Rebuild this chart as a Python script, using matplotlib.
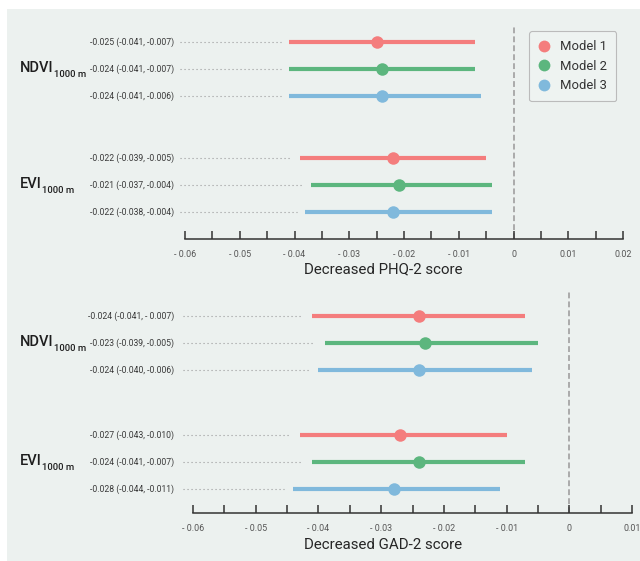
import matplotlib
matplotlib.use("Agg")
import matplotlib.pyplot as plt
import matplotlib.transforms as mtransforms
from matplotlib.lines import Line2D
from matplotlib.patches import Rectangle


plt.rcParams["font.family"] = ["Roboto", "DejaVu Sans"]


# =========================================================
# Data
# =========================================================

models = ["Model 1", "Model 2", "Model 3"]
colors = ["#F47D7D", "#5CB67E", "#80B9DC"]
exposures = ["NDVI", "EVI"]
buffer_label = "1000 m"

# PHQ-2
phq_ndvi_est = [-0.025, -0.024, -0.024]
phq_ndvi_lo = [-0.041, -0.041, -0.041]
phq_ndvi_hi = [-0.007, -0.007, -0.006]
phq_evi_est = [-0.022, -0.021, -0.022]
phq_evi_lo = [-0.039, -0.037, -0.038]
phq_evi_hi = [-0.005, -0.004, -0.004]
phq_labels = [
    "-0.025 (-0.041, -0.007)",
    "-0.024 (-0.041, -0.007)",
    "-0.024 (-0.041, -0.006)",
    "-0.022 (-0.039, -0.005)",
    "-0.021 (-0.037, -0.004)",
    "-0.022 (-0.038, -0.004)",
]

# GAD-2
gad_ndvi_est = [-0.024, -0.023, -0.024]
gad_ndvi_lo = [-0.041, -0.039, -0.040]
gad_ndvi_hi = [-0.007, -0.005, -0.006]
gad_evi_est = [-0.027, -0.024, -0.028]
gad_evi_lo = [-0.043, -0.041, -0.044]
gad_evi_hi = [-0.010, -0.007, -0.011]
gad_labels = [
    "-0.024 (-0.041, - 0.007)",
    "-0.023 (-0.039, -0.005)",
    "-0.024 (-0.040, -0.006)",
    "-0.027 (-0.043, -0.010)",
    "-0.024 (-0.041, -0.007)",
    "-0.028 (-0.044, -0.011)",
]

phq_ticks = [-0.06, -0.05, -0.04, -0.03, -0.02, -0.01, 0, 0.01, 0.02]
phq_ticklabels = ["- 0.06", "- 0.05", "- 0.04", "- 0.03", "- 0.02", "- 0.01", "0", "0.01", "0.02"]
gad_ticks = [-0.06, -0.05, -0.04, -0.03, -0.02, -0.01, 0, 0.01]
gad_ticklabels = ["- 0.06", "- 0.05", "- 0.04", "- 0.03", "- 0.02", "- 0.01", "0", "0.01"]


W, H = 640, 561
BG = "#ECF1EF"


def fx(px):
    return px / W


def fy(py):
    return 1 - py / H


fig = plt.figure(figsize=(W / 100, H / 100), dpi=100)
fig.patch.set_facecolor("white")
fig.patches.append(
    Rectangle((fx(7), 0), 1 - fx(7), fy(9), transform=fig.transFigure,
              facecolor=BG, edgecolor="none", zorder=-10)
)


# =========================================================
# Helpers
# =========================================================

def forest_panel(box, rows, ylim, est, lo, hi, labels, ticks, ticklabels,
                 xlabel, dot_start, label_offset, xlabel_y):

    left, top, right, bottom = box

    ax = fig.add_axes([fx(left), fy(bottom), fx(right) - fx(left), fy(top) - fy(bottom)])
    ax.set_facecolor("none")

    ax.set_xlim(ticks[0], ticks[-1])
    ax.set_ylim(*ylim)

    ax.axvline(0, color="#ABABAB", lw=1.4, ls=(0, (3, 1.6)), zorder=1)

    trans = mtransforms.blended_transform_factory(fig.transFigure, ax.transData)

    for i, y in enumerate(rows):
        c = colors[i % 3]

        ax.plot([dot_start, lo[i] - 0.0015], [y, y], color="#9A9A9A",
                lw=0.8, ls=(0, (1, 2.6)), clip_on=False, zorder=2)

        ax.plot([lo[i], hi[i]], [y, y], color=c, lw=3.0,
                solid_capstyle="butt", zorder=3)

        ax.plot(est[i], y, "o", color=c, ms=9, mew=0, zorder=4)

        ax.text(fx(174), y, labels[i], transform=trans, ha="right",
                va="center", fontsize=6.2, color="#3A3A3A")

    for g, name in enumerate(exposures):
        y = rows[g * 3 + 1] + label_offset
        main = ax.text(fx(20), y, name, transform=trans, ha="left",
                       va="baseline", fontsize=10.5, fontweight="medium",
                       color="#1E1E1E")
        ax.annotate(buffer_label, xy=(1, y), xycoords=(main, trans),
                    xytext=(0.2, -3.2), textcoords="offset points",
                    ha="left", va="baseline", fontsize=6.8,
                    fontweight="medium", color="#1E1E1E")

    for s in ["top", "left", "right"]:
        ax.spines[s].set_visible(False)

    ax.spines["bottom"].set_color("#333333")
    ax.spines["bottom"].set_linewidth(1.1)

    ax.set_yticks([])

    ax.set_xticks(ticks)
    ax.set_xticklabels(ticklabels)
    ax.set_xticks([t + 0.005 for t in ticks[:-1]], minor=True)

    ax.tick_params(axis="x", which="both", direction="in", length=6,
                   width=1.1, color="#333333")
    ax.tick_params(axis="x", which="major", labelsize=6.4,
                   labelcolor="#555555", pad=8)

    fig.text(fx(383.5), fy(xlabel_y), xlabel, ha="center", va="baseline",
             fontsize=10.8, color="#262626")

    return ax


# =========================================================
# Panels
# =========================================================

ax_top = forest_panel(
    (185, 25, 623, 239),
    [0, 1, 2, 4.3, 5.3, 6.3],
    (7.3, -0.63),
    phq_ndvi_est + phq_evi_est,
    phq_ndvi_lo + phq_evi_lo,
    phq_ndvi_hi + phq_evi_hi,
    phq_labels,
    phq_ticks,
    phq_ticklabels,
    "Decreased PHQ-2 score",
    -0.0609,
    0.12,
    273.5,
)

ax_bot = forest_panel(
    (193, 290, 632, 513),
    [0, 1, 2, 4.41, 5.41, 6.41],
    (7.3, -0.96),
    gad_ndvi_est + gad_evi_est,
    gad_ndvi_lo + gad_evi_lo,
    gad_ndvi_hi + gad_evi_hi,
    gad_labels,
    gad_ticks,
    gad_ticklabels,
    "Decreased GAD-2 score",
    -0.0616,
    0.12,
    549,
)


handles = [
    Line2D([], [], marker="o", ls="none", color=c, ms=8.5, mew=0)
    for c in colors
]

leg = fig.legend(
    handles, models,
    loc="upper left",
    bbox_to_anchor=(fx(529), fy(31)),
    bbox_transform=fig.transFigure,
    fontsize=9.4,
    frameon=True,
    fancybox=True,
    handlelength=0.9,
    handletextpad=0.8,
    labelspacing=0.5,
    borderpad=0.7,
    borderaxespad=0,
)
leg.get_frame().set_facecolor("#EEF3F1")
leg.get_frame().set_edgecolor("#BBBBBB")
leg.get_frame().set_linewidth(0.8)
leg.get_frame().set_alpha(1)
for t in leg.get_texts():
    t.set_color("#333333")


plt.savefig("out.png", dpi=100)
plt.close()
